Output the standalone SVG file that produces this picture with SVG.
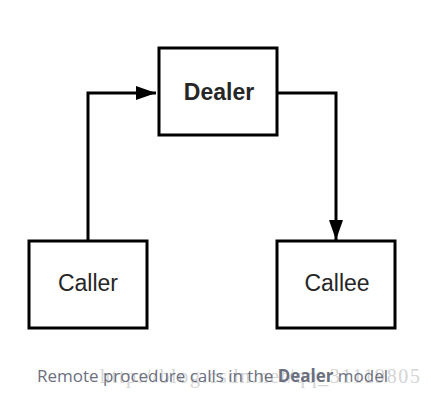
<svg xmlns="http://www.w3.org/2000/svg" width="431" height="400" viewBox="0 0 431 400">
<style>
.box{fill:#fff;stroke:#000;stroke-width:3}
.lbl{font-family:"Liberation Sans",Arial,sans-serif;font-size:23px;fill:#262626;text-anchor:middle}
.conn{fill:none;stroke:#000;stroke-width:3}
</style>
<defs>
<marker id="a2" viewBox="0 0 20 14" refX="20" refY="7" markerWidth="20" markerHeight="14" markerUnits="userSpaceOnUse" orient="auto">
<path d="M0,0 L20,7 L0,14 z" fill="#000"/>
</marker>
</defs>
<rect width="431" height="400" fill="#fff"/>
<g id="connectors">
<path class="conn" d="M88,240 V93 H156" marker-end="url(#a2)"/>
<path class="conn" d="M278,93 H336 V240" marker-end="url(#a2)"/>
</g>
<g id="dealer">
<rect class="box" x="159" y="48" width="118" height="87"/>
<text class="lbl" x="219" y="100" font-weight="bold">Dealer</text>
</g>
<g id="caller">
<rect class="box" x="29" y="241" width="118" height="87"/>
<text class="lbl" x="88" y="291">Caller</text>
</g>
<g id="callee">
<rect class="box" x="277" y="241" width="118" height="87"/>
<text class="lbl" x="337" y="291">Callee</text>
</g>
<g id="caption">
<text x="100" y="383" font-family="'Liberation Serif','Times New Roman',serif" font-size="20" fill="#d4d4d4" textLength="320">http://blog.csdn.net/qq_31119805</text>
<text x="37" y="382" font-family="'Open Sans','Noto Sans',sans-serif" font-size="17" fill="#6b6f7e" textLength="351">Remote procedure calls in the <tspan font-weight="bold">Dealer</tspan> model</text>
</g>
</svg>
